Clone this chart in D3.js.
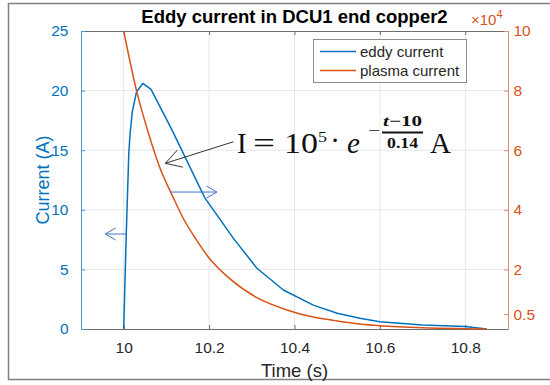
<!DOCTYPE html>
<html>
<head>
<meta charset="utf-8">
<script src="https://d3js.org/d3.v7.min.js"></script>
<style>
    body { margin: 0; background: #fff; }
    #chart-area { width: 550px; height: 385px; }
</style>
</head>
<body>
<div id="chart-area"></div>
<script>
// eddy current (A) -- left axis
const eddyTime    = [10.0, 10.006, 10.012, 10.015, 10.02, 10.03, 10.045, 10.064, 10.113, 10.19, 10.257, 10.312, 10.374, 10.444, 10.5, 10.553, 10.6, 10.7, 10.8, 10.85];
const eddyCurrent = [0, 8.0, 14.8, 16.4, 18.2, 19.9, 20.6, 20.1, 16.7, 11.0, 7.6, 5.1, 3.27, 2.0, 1.32, 0.9, 0.61, 0.34, 0.2, 0.0];

// plasma current (x10^4 A) -- right axis
const plasmaTime    = [10.0, 10.03, 10.058, 10.085, 10.113, 10.14, 10.168, 10.199, 10.249, 10.312, 10.382, 10.444, 10.5, 10.553, 10.6, 10.7, 10.8, 10.85];
const plasmaCurrent = [10.0, 8.0, 6.57, 5.4, 4.5, 3.7, 3.04, 2.4, 1.68, 1.05, 0.64, 0.4, 0.27, 0.17, 0.11, 0.04, 0.01, 0.0];

const xTicks = [10, 10.2, 10.4, 10.6, 10.8];
const yLeftTicks = [0, 5, 10, 15, 20, 25];
const yRightTicks = [0.5, 2, 4, 6, 8, 10];
const legendLabels = ["eddy current", "plasma current"];

// annotation arrows, in data units (time, left-axis current)
const leftArrow = {from: [10.0063, 7.97], to: [9.9568, 7.97]};
const rightArrow = {from: [10.1093, 11.49], to: [10.2184, 11.49]};
const formulaArrow = {from: [10.257, 15.71], to: [10.0974, 13.9]};
const formulaAnchor = [10.2655, 14.77];

class DualAxisVis {
    constructor(parentElement) {
        this.parentElement = parentElement;
        this.initVis();
    }

    initVis() {
        let vis = this;

        vis.margin = {top: 31, right: 42, bottom: 56, left: 81};
        vis.width = 550 - vis.margin.left - vis.margin.right;
        vis.height = 385 - vis.margin.top - vis.margin.bottom;

        vis.blue = "#0072BD";
        vis.orange = "#D95319";
        vis.font = "'Liberation Sans', Arial, sans-serif";

        vis.root = d3.select("#" + vis.parentElement).append("svg")
            .attr("width", 550)
            .attr("height", 385);

        // figure frame
        vis.root.append("rect")
            .attr("x", 8.5).attr("y", 3.5)
            .attr("width", 600).attr("height", 376)
            .attr("fill", "none")
            .attr("stroke", "#808080")
            .attr("stroke-width", 1.5);

        vis.svg = vis.root.append("g")
            .attr("transform", `translate(${vis.margin.left},${vis.margin.top})`);

        // Scales
        vis.x = d3.scaleLinear().domain([9.9, 10.9]).range([0, vis.width]);
        vis.yL = d3.scaleLinear().domain([0, 25]).range([vis.height, 0]);
        vis.yR = d3.scaleLinear().domain([0, 10]).range([vis.height, 0]);

        vis.updateVis();
    }

    styleAxis(g, color, textColor) {
        let vis = this;
        g.attr("font-family", vis.font).attr("font-size", 15.5);
        g.select(".domain").attr("stroke", color).attr("stroke-width", 1);
        g.selectAll(".tick line").attr("stroke", color);
        g.selectAll(".tick text").attr("fill", textColor);
    }

    drawArrow(a, color, headLen, width) {
        let vis = this;
        let x1 = vis.x(a.from[0]), y1 = vis.yL(a.from[1]);
        let x2 = vis.x(a.to[0]), y2 = vis.yL(a.to[1]);
        let ang = Math.atan2(y1 - y2, x1 - x2);
        let spread = Math.PI / 6;
        let g = vis.svg.append("g")
            .attr("fill", "none")
            .attr("stroke", color)
            .attr("stroke-width", width);
        g.append("line").attr("x1", x1).attr("y1", y1).attr("x2", x2).attr("y2", y2);
        g.append("path")
            .attr("d", `M${x2 + headLen * Math.cos(ang - spread)},${y2 + headLen * Math.sin(ang - spread)}` +
                `L${x2},${y2}` +
                `L${x2 + headLen * Math.cos(ang + spread)},${y2 + headLen * Math.sin(ang + spread)}`);
    }

    updateVis() {
        let vis = this;

        // grid
        vis.svg.append("g").selectAll("line.vgrid")
            .data(xTicks)
            .join("line")
            .attr("x1", d => vis.x(d)).attr("x2", d => vis.x(d))
            .attr("y1", 0).attr("y2", vis.height)
            .attr("stroke", "#e3e6ea");
        vis.svg.append("g").selectAll("line.hgrid")
            .data(yLeftTicks.filter(d => d > 0 && d < 25))
            .join("line")
            .attr("x1", 0).attr("x2", vis.width)
            .attr("y1", d => vis.yL(d)).attr("y2", d => vis.yL(d))
            .attr("stroke", "#e3e6ea");

        // Axes
        let xAxis = d3.axisBottom(vis.x).tickValues(xTicks)
            .tickSizeInner(-4).tickSizeOuter(0).tickPadding(13)
            .tickFormat(d => String(d));
        vis.svg.append("g")
            .attr("transform", `translate(0,${vis.height})`)
            .call(xAxis)
            .call(g => vis.styleAxis(g, "#6e6e6e", "#262626"));

        let xTop = d3.axisTop(vis.x).tickValues(xTicks)
            .tickSizeInner(-4).tickSizeOuter(0).tickFormat("");
        vis.svg.append("g")
            .call(xTop)
            .call(g => vis.styleAxis(g, "#6e6e6e", "#262626"));

        let yAxisL = d3.axisLeft(vis.yL).tickValues(yLeftTicks)
            .tickSizeInner(-4).tickSizeOuter(0).tickPadding(12.5);
        vis.svg.append("g")
            .call(yAxisL)
            .call(g => vis.styleAxis(g, "#4d95cc", vis.blue));

        let yAxisR = d3.axisRight(vis.yR).tickValues(yRightTicks)
            .tickSizeInner(-4).tickSizeOuter(0).tickPadding(5.5)
            .tickFormat(d => String(d));
        vis.svg.append("g")
            .attr("transform", `translate(${vis.width},0)`)
            .call(yAxisR)
            .call(g => vis.styleAxis(g, "#e08a68", vis.orange));

        // lines
        let eddyData = eddyTime.map((t, i) => ({t: t, v: eddyCurrent[i]}));
        let plasmaData = plasmaTime.map((t, i) => ({t: t, v: plasmaCurrent[i]}));

        vis.svg.append("path")
            .datum(eddyData)
            .attr("fill", "none")
            .attr("stroke", vis.blue)
            .attr("stroke-width", 1.5)
            .attr("stroke-linejoin", "round")
            .attr("d", d3.line().x(d => vis.x(d.t)).y(d => vis.yL(d.v)));

        vis.svg.append("path")
            .datum(plasmaData)
            .attr("fill", "none")
            .attr("stroke", vis.orange)
            .attr("stroke-width", 1.5)
            .attr("stroke-linejoin", "round")
            .attr("d", d3.line().curve(d3.curveMonotoneX).x(d => vis.x(d.t)).y(d => vis.yR(d.v)));

        // title
        vis.root.append("text")
            .attr("x", vis.margin.left + vis.width / 2)
            .attr("y", 23)
            .attr("text-anchor", "middle")
            .attr("font-family", vis.font)
            .attr("font-weight", "bold")
            .attr("font-size", 18.5)
            .attr("fill", "#000")
            .text("Eddy current in DCU1 end copper2");

        // exponent label on the right axis
        let expo = vis.root.append("text")
            .attr("x", 471)
            .attr("y", 25)
            .attr("font-family", vis.font)
            .attr("font-size", 15)
            .attr("fill", vis.orange);
        expo.append("tspan").text("\u00d710");
        expo.append("tspan").attr("font-size", 11).attr("dy", -7).text("4");

        // axis labels
        vis.root.append("text")
            .attr("transform", `translate(48.5,${vis.margin.top + vis.height / 2}) rotate(-90)`)
            .attr("text-anchor", "middle")
            .attr("font-family", vis.font)
            .attr("font-size", 18)
            .attr("fill", vis.blue)
            .text("Current (A)");

        vis.root.append("text")
            .attr("x", vis.margin.left + vis.width / 2)
            .attr("y", 376.5)
            .attr("text-anchor", "middle")
            .attr("font-family", vis.font)
            .attr("font-size", 18.5)
            .attr("fill", "#262626")
            .text("Time (s)");

        // legend
        let legend = vis.root.append("g").attr("transform", "translate(313,39)");
        legend.append("rect")
            .attr("x", 0.5).attr("y", 0.5)
            .attr("width", 153).attr("height", 43)
            .attr("fill", "#fff")
            .attr("stroke", "#8c8c8c");
        legendLabels.forEach((label, i) => {
            let yy = 12.5 + i * 19;
            legend.append("line")
                .attr("x1", 7).attr("x2", 43)
                .attr("y1", yy).attr("y2", yy)
                .attr("stroke", i === 0 ? vis.blue : vis.orange)
                .attr("stroke-width", 1.5);
            legend.append("text")
                .attr("x", 47).attr("y", yy + 5)
                .attr("font-family", vis.font)
                .attr("font-size", 15)
                .attr("fill", "#262626")
                .text(label);
        });

        // annotations
        vis.drawArrow(leftArrow, "#4472C4", 12, 1);
        vis.drawArrow(rightArrow, "#4472C4", 12, 1);
        vis.drawArrow(formulaArrow, "#333", 18, 1);

        let fx = vis.x(formulaAnchor[0]), fy = vis.yL(formulaAnchor[1]);
        let f = vis.svg.append("g")
            .attr("transform", `translate(${fx},${fy})`)
            .attr("font-family", "'Liberation Serif', 'DejaVu Serif', serif")
            .attr("fill", "#111");
        f.append("text").attr("x", 0).attr("y", 0).attr("font-size", 29).text("I");
        f.append("text").attr("x", 16).attr("y", 0).attr("font-size", 29)
            .attr("textLength", 22).attr("lengthAdjust", "spacingAndGlyphs").text("=");
        f.append("text").attr("x", 47).attr("y", 0).attr("font-size", 29)
            .attr("textLength", 34).attr("lengthAdjust", "spacingAndGlyphs").text("10");
        f.append("text").attr("x", 81).attr("y", -11).attr("font-size", 15)
            .attr("textLength", 9).attr("lengthAdjust", "spacingAndGlyphs").text("5");
        f.append("text").attr("x", 98).attr("y", -3).attr("font-size", 29).attr("text-anchor", "middle").text("\u00b7");
        f.append("text").attr("x", 110).attr("y", 0).attr("font-size", 29).attr("font-style", "italic").text("e");
        f.append("text").attr("x", 131).attr("y", -16.5).attr("font-size", 17)
            .attr("textLength", 12).attr("lengthAdjust", "spacingAndGlyphs").text("\u2212");
        f.append("line")
            .attr("x1", 145).attr("x2", 186)
            .attr("y1", -20.5).attr("y2", -20.5)
            .attr("stroke", "#111").attr("stroke-width", 2);
        let num = f.append("text").attr("x", 146).attr("y", -27).attr("font-size", 15)
            .attr("font-weight", "bold")
            .attr("textLength", 39).attr("lengthAdjust", "spacingAndGlyphs");
        num.append("tspan").attr("font-style", "italic").text("t");
        num.append("tspan").text("\u221210");
        f.append("text").attr("x", 150).attr("y", -5).attr("font-size", 14)
            .attr("font-weight", "bold")
            .attr("textLength", 31).attr("lengthAdjust", "spacingAndGlyphs").text("0.14");
        f.append("text").attr("x", 193).attr("y", 0).attr("font-size", 29).text("A");
    }
}

new DualAxisVis("chart-area");
</script>
</body>
</html>
